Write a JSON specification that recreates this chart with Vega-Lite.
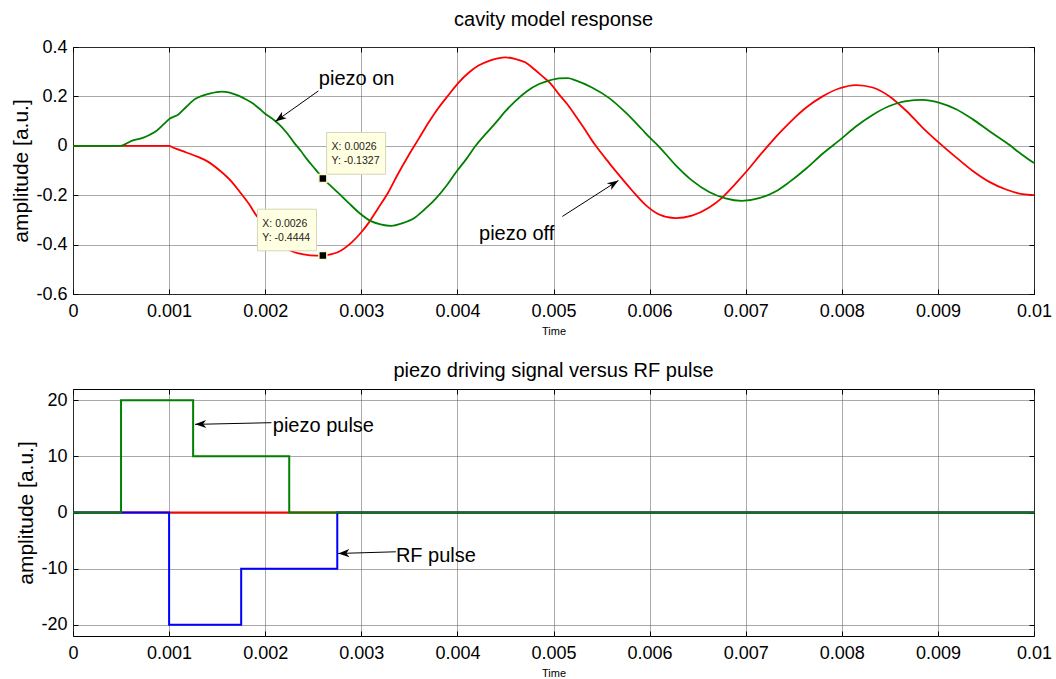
{
  "$schema": "https://vega.github.io/schema/vega-lite/v6.json",
  "padding": {"left": 10, "top": 9, "right": 0, "bottom": 0},
  "spacing": 23,
  "config": {
    "font": "Liberation Sans",
    "view": {"stroke": "#000", "strokeWidth": 1},
    "axis": {"labelFont": "Liberation Sans", "labelFontSize": 18, "labelColor": "#000", "titleFont": "Liberation Sans", "titleFontWeight": "normal", "titleColor": "#000", "domain": false, "tickColor": "#000", "tickSize": -5, "gridColor": "#555", "gridDash": [1, 1], "gridOpacity": 1},
    "axisX": {"labelPadding": 13},
    "axisY": {"labelPadding": 11},
    "title": {"font": "Liberation Sans", "fontSize": 20, "fontWeight": "normal", "color": "#000", "offset": 8}
  },
  "datasets": {
    "cav": [
      {"t": 0, "v": 0, "s": "off"}, {"t": 0.001, "v": 0, "s": "off"}, {"t": 0.00104, "v": -0.007, "s": "off"}, {"t": 0.00118, "v": -0.027, "s": "off"}, {"t": 0.0013, "v": -0.045, "s": "off"}, {"t": 0.00139, "v": -0.061, "s": "off"}, {"t": 0.00153, "v": -0.101, "s": "off"}, {"t": 0.00165, "v": -0.145, "s": "off"}, {"t": 0.00174, "v": -0.189, "s": "off"}, {"t": 0.00183, "v": -0.235, "s": "off"}, {"t": 0.00191, "v": -0.283, "s": "off"}, {"t": 0.002, "v": -0.325, "s": "off"}, {"t": 0.0021, "v": -0.37, "s": "off"}, {"t": 0.00218, "v": -0.403, "s": "off"}, {"t": 0.00226, "v": -0.424, "s": "off"}, {"t": 0.0024, "v": -0.44, "s": "off"}, {"t": 0.00253, "v": -0.445, "s": "off"}, {"t": 0.0026, "v": -0.4444, "s": "off"}, {"t": 0.00268, "v": -0.44, "s": "off"}, {"t": 0.00276, "v": -0.43, "s": "off"}, {"t": 0.0029, "v": -0.391, "s": "off"}, {"t": 0.003, "v": -0.35, "s": "off"}, {"t": 0.00308, "v": -0.31, "s": "off"}, {"t": 0.00318, "v": -0.25, "s": "off"}, {"t": 0.00328, "v": -0.189, "s": "off"}, {"t": 0.00338, "v": -0.115, "s": "off"}, {"t": 0.00349, "v": -0.04, "s": "off"}, {"t": 0.0036, "v": 0.03, "s": "off"}, {"t": 0.0037, "v": 0.094, "s": "off"}, {"t": 0.0038, "v": 0.152, "s": "off"}, {"t": 0.0039, "v": 0.202, "s": "off"}, {"t": 0.00401, "v": 0.255, "s": "off"}, {"t": 0.00412, "v": 0.297, "s": "off"}, {"t": 0.00422, "v": 0.325, "s": "off"}, {"t": 0.00433, "v": 0.344, "s": "off"}, {"t": 0.00442, "v": 0.354, "s": "off"}, {"t": 0.0045, "v": 0.358, "s": "off"}, {"t": 0.0046, "v": 0.352, "s": "off"}, {"t": 0.00471, "v": 0.337, "s": "off"}, {"t": 0.0048, "v": 0.31, "s": "off"}, {"t": 0.00488, "v": 0.283, "s": "off"}, {"t": 0.00497, "v": 0.252, "s": "off"}, {"t": 0.005055, "v": 0.209, "s": "off"}, {"t": 0.00515, "v": 0.165, "s": "off"}, {"t": 0.00523, "v": 0.121, "s": "off"}, {"t": 0.00532, "v": 0.07, "s": "off"}, {"t": 0.0054, "v": 0.022, "s": "off"}, {"t": 0.00544, "v": 0, "s": "off"}, {"t": 0.00558, "v": -0.07, "s": "off"}, {"t": 0.00568, "v": -0.118, "s": "off"}, {"t": 0.00582, "v": -0.182, "s": "off"}, {"t": 0.00596, "v": -0.24, "s": "off"}, {"t": 0.0061, "v": -0.278, "s": "off"}, {"t": 0.00627, "v": -0.293, "s": "off"}, {"t": 0.00644, "v": -0.283, "s": "off"}, {"t": 0.00662, "v": -0.25, "s": "off"}, {"t": 0.00675, "v": -0.212, "s": "off"}, {"t": 0.00689, "v": -0.155, "s": "off"}, {"t": 0.00703, "v": -0.094, "s": "off"}, {"t": 0.00714, "v": -0.042, "s": "off"}, {"t": 0.00725, "v": 0.008, "s": "off"}, {"t": 0.00738, "v": 0.063, "s": "off"}, {"t": 0.0075, "v": 0.11, "s": "off"}, {"t": 0.00763, "v": 0.155, "s": "off"}, {"t": 0.0078, "v": 0.2, "s": "off"}, {"t": 0.00797, "v": 0.232, "s": "off"}, {"t": 0.00815, "v": 0.246, "s": "off"}, {"t": 0.00832, "v": 0.236, "s": "off"}, {"t": 0.00849, "v": 0.202, "s": "off"}, {"t": 0.00867, "v": 0.142, "s": "off"}, {"t": 0.00884, "v": 0.074, "s": "off"}, {"t": 0.00901, "v": 0.013, "s": "off"}, {"t": 0.00919, "v": -0.047, "s": "off"}, {"t": 0.00936, "v": -0.101, "s": "off"}, {"t": 0.00953, "v": -0.145, "s": "off"}, {"t": 0.00971, "v": -0.177, "s": "off"}, {"t": 0.00988, "v": -0.196, "s": "off"}, {"t": 0.01, "v": -0.2, "s": "off"},
      {"t": 0, "v": 0, "s": "on"}, {"t": 0.0005, "v": 0, "s": "on"}, {"t": 0.00055, "v": 0.008, "s": "on"}, {"t": 0.00061, "v": 0.02, "s": "on"}, {"t": 0.00071, "v": 0.03, "s": "on"}, {"t": 0.0008, "v": 0.045, "s": "on"}, {"t": 0.00087, "v": 0.061, "s": "on"}, {"t": 0.00095, "v": 0.09, "s": "on"}, {"t": 0.001, "v": 0.108, "s": "on"}, {"t": 0.0011, "v": 0.128, "s": "on"}, {"t": 0.00118, "v": 0.158, "s": "on"}, {"t": 0.00127, "v": 0.189, "s": "on"}, {"t": 0.00135, "v": 0.203, "s": "on"}, {"t": 0.00142, "v": 0.211, "s": "on"}, {"t": 0.00155, "v": 0.219, "s": "on"}, {"t": 0.00162, "v": 0.216, "s": "on"}, {"t": 0.0017, "v": 0.206, "s": "on"}, {"t": 0.00178, "v": 0.192, "s": "on"}, {"t": 0.00187, "v": 0.172, "s": "on"}, {"t": 0.00194, "v": 0.15, "s": "on"}, {"t": 0.002, "v": 0.13, "s": "on"}, {"t": 0.00208, "v": 0.108, "s": "on"}, {"t": 0.00215, "v": 0.085, "s": "on"}, {"t": 0.00223, "v": 0.05, "s": "on"}, {"t": 0.0023, "v": 0.013, "s": "on"}, {"t": 0.00237, "v": -0.02, "s": "on"}, {"t": 0.00243, "v": -0.052, "s": "on"}, {"t": 0.0025, "v": -0.085, "s": "on"}, {"t": 0.00255, "v": -0.108, "s": "on"}, {"t": 0.0026, "v": -0.1327, "s": "on"}, {"t": 0.00269, "v": -0.165, "s": "on"}, {"t": 0.00278, "v": -0.198, "s": "on"}, {"t": 0.00287, "v": -0.232, "s": "on"}, {"t": 0.00298, "v": -0.272, "s": "on"}, {"t": 0.0031, "v": -0.305, "s": "on"}, {"t": 0.0032, "v": -0.318, "s": "on"}, {"t": 0.00331, "v": -0.324, "s": "on"}, {"t": 0.00343, "v": -0.313, "s": "on"}, {"t": 0.00356, "v": -0.29, "s": "on"}, {"t": 0.00366, "v": -0.257, "s": "on"}, {"t": 0.00377, "v": -0.216, "s": "on"}, {"t": 0.00388, "v": -0.165, "s": "on"}, {"t": 0.00398, "v": -0.11, "s": "on"}, {"t": 0.00409, "v": -0.055, "s": "on"}, {"t": 0.00419, "v": 0, "s": "on"}, {"t": 0.0043, "v": 0.05, "s": "on"}, {"t": 0.0044, "v": 0.094, "s": "on"}, {"t": 0.0045, "v": 0.14, "s": "on"}, {"t": 0.0046, "v": 0.18, "s": "on"}, {"t": 0.00472, "v": 0.22, "s": "on"}, {"t": 0.00485, "v": 0.25, "s": "on"}, {"t": 0.00497, "v": 0.266, "s": "on"}, {"t": 0.005055, "v": 0.273, "s": "on"}, {"t": 0.00515, "v": 0.274, "s": "on"}, {"t": 0.00523, "v": 0.265, "s": "on"}, {"t": 0.0054, "v": 0.236, "s": "on"}, {"t": 0.00558, "v": 0.193, "s": "on"}, {"t": 0.00575, "v": 0.135, "s": "on"}, {"t": 0.00592, "v": 0.067, "s": "on"}, {"t": 0.006, "v": 0.034, "s": "on"}, {"t": 0.00609, "v": 0, "s": "on"}, {"t": 0.00627, "v": -0.078, "s": "on"}, {"t": 0.00644, "v": -0.14, "s": "on"}, {"t": 0.00662, "v": -0.187, "s": "on"}, {"t": 0.00679, "v": -0.213, "s": "on"}, {"t": 0.00696, "v": -0.223, "s": "on"}, {"t": 0.00714, "v": -0.212, "s": "on"}, {"t": 0.00731, "v": -0.185, "s": "on"}, {"t": 0.00745, "v": -0.148, "s": "on"}, {"t": 0.00763, "v": -0.092, "s": "on"}, {"t": 0.0078, "v": -0.032, "s": "on"}, {"t": 0.008, "v": 0.03, "s": "on"}, {"t": 0.00815, "v": 0.079, "s": "on"}, {"t": 0.00832, "v": 0.125, "s": "on"}, {"t": 0.00849, "v": 0.16, "s": "on"}, {"t": 0.00867, "v": 0.181, "s": "on"}, {"t": 0.00884, "v": 0.186, "s": "on"}, {"t": 0.00901, "v": 0.175, "s": "on"}, {"t": 0.00919, "v": 0.148, "s": "on"}, {"t": 0.00936, "v": 0.108, "s": "on"}, {"t": 0.00953, "v": 0.061, "s": "on"}, {"t": 0.00971, "v": 0.013, "s": "on"}, {"t": 0.00988, "v": -0.037, "s": "on"}, {"t": 0.01, "v": -0.07, "s": "on"}
    ],
    "drv": [
      {"t": 0, "v": 0, "s": "off"}, {"t": 0.01, "v": 0, "s": "off"},
      {"t": 0, "v": 0, "s": "rf"}, {"t": 0.001, "v": -20, "s": "rf"}, {"t": 0.00175, "v": -10, "s": "rf"}, {"t": 0.00275, "v": 0, "s": "rf"}, {"t": 0.01, "v": 0, "s": "rf"},
      {"t": 0, "v": 0, "s": "pz"}, {"t": 0.0005, "v": 20, "s": "pz"}, {"t": 0.00125, "v": 10, "s": "pz"}, {"t": 0.00225, "v": 0, "s": "pz"}, {"t": 0.01, "v": 0, "s": "pz"}
    ],
    "arrows": [
      {"p": "on", "x": 0.002553, "y": 0.222, "x2": 0.002105, "y2": 0.0984},
      {"p": "off", "x": 0.005092, "y": -0.286, "x2": 0.005675, "y2": -0.1405},
      {"p": "pulse", "x": 0.002065, "y": 16.0, "x2": 0.00127, "y2": 15.7},
      {"p": "rf", "x": 0.00336, "y": -7.0, "x2": 0.00276, "y2": -7.3}
    ],
    "labels": [
      {"p": "top", "x": 0.002558, "y": 0.269, "txt": "piezo on"},
      {"p": "top", "x": 0.004225, "y": -0.359, "txt": "piezo off"},
      {"p": "bot", "x": 0.002079, "y": 15.44, "txt": "piezo pulse"},
      {"p": "bot", "x": 0.00336, "y": -7.8, "txt": "RF pulse"}
    ],
    "tipbox": [
      {"x1": 0.002639, "x2": 0.003253, "y1": 0.0538, "y2": -0.115},
      {"x1": 0.00192, "x2": 0.002534, "y1": -0.2567, "y2": -0.4251}
    ],
    "tiptext": [
      {"x": 0.002691, "y": -0.003, "txt": "X: 0.0026"},
      {"x": 0.002691, "y": -0.0607, "txt": "Y: -0.1327"},
      {"x": 0.00197, "y": -0.3174, "txt": "X: 0.0026"},
      {"x": 0.00197, "y": -0.3753, "txt": "Y: -0.4444"}
    ],
    "tips": [
      {"x": 0.0026, "y": -0.1327},
      {"x": 0.0026, "y": -0.4444}
    ]
  },
  "vconcat": [
    {
      "width": 961,
      "height": 247,
      "title": "cavity model response",
      "resolve": {"axis": {"x": "independent", "y": "independent"}},
      "layer": [
        {
          "data": {"name": "cav"},
          "transform": [{"filter": "datum.s === 'off'"}],
          "mark": {"type": "line", "color": "#ff0000", "strokeWidth": 1.8, "interpolate": "monotone"},
          "encoding": {
            "x": {"field": "t", "type": "quantitative", "scale": {"domain": [0, 0.01], "nice": false, "zero": false},
              "axis": {"values": [0, 0.001, 0.002, 0.003, 0.004, 0.005, 0.006, 0.007, 0.008, 0.009, 0.01], "labelExpr": "replace(format(datum.value, '~g'), '\u2212', '-')", "labelFlush": false, "labelOverlap": false, "title": "Time", "titleFontSize": 11, "titlePadding": 5, "grid": true}},
            "y": {"field": "v", "type": "quantitative", "scale": {"domain": [-0.6, 0.4], "nice": false, "zero": false},
              "axis": {"values": [-0.6, -0.4, -0.2, 0, 0.2, 0.4], "labelExpr": "replace(format(datum.value, '~g'), '\u2212', '-')", "labelOverlap": false, "title": "amplitude [a.u.]", "titleFontSize": 21, "titlePadding": 4, "grid": true}}
          }
        },
        {
          "data": {"name": "cav"},
          "transform": [{"filter": "datum.s === 'on'"}],
          "mark": {"type": "line", "color": "#008000", "strokeWidth": 1.8, "interpolate": "monotone"},
          "encoding": {
            "x": {"field": "t", "type": "quantitative", "axis": {"orient": "top", "values": [0, 0.001, 0.002, 0.003, 0.004, 0.005, 0.006, 0.007, 0.008, 0.009, 0.01], "labels": false, "title": null, "grid": false}},
            "y": {"field": "v", "type": "quantitative", "axis": {"orient": "right", "values": [-0.6, -0.4, -0.2, 0, 0.2, 0.4], "labels": false, "title": null, "grid": false}}
          }
        },
        {
          "data": {"name": "arrows"},
          "transform": [{"filter": "datum.p === 'on' || datum.p === 'off'"}],
          "mark": {"type": "rule", "color": "#000", "strokeWidth": 1},
          "encoding": {
            "x": {"field": "x", "type": "quantitative", "axis": null},
            "y": {"field": "y", "type": "quantitative", "axis": null},
            "x2": {"field": "x2"},
            "y2": {"field": "y2"}
          }
        },
        {
          "data": {"name": "arrows"},
          "transform": [{"filter": "datum.p === 'on'"}],
          "mark": {"type": "point", "shape": "M0,0L-1,-0.36L-0.72,0L-1,0.36Z", "filled": true, "color": "#000", "opacity": 1, "size": 500, "angle": 144.6},
          "encoding": {
            "x": {"field": "x2", "type": "quantitative", "axis": null},
            "y": {"field": "y2", "type": "quantitative", "axis": null}
          }
        },
        {
          "data": {"name": "arrows"},
          "transform": [{"filter": "datum.p === 'off'"}],
          "mark": {"type": "point", "shape": "M0,0L-1,-0.36L-0.72,0L-1,0.36Z", "filled": true, "color": "#000", "opacity": 1, "size": 500, "angle": 327.3},
          "encoding": {
            "x": {"field": "x2", "type": "quantitative", "axis": null},
            "y": {"field": "y2", "type": "quantitative", "axis": null}
          }
        },
        {
          "data": {"name": "labels"},
          "transform": [{"filter": "datum.p === 'top'"}],
          "mark": {"type": "text", "align": "left", "baseline": "middle", "fontSize": 20, "color": "#000"},
          "encoding": {
            "x": {"field": "x", "type": "quantitative", "axis": null},
            "y": {"field": "y", "type": "quantitative", "axis": null},
            "text": {"field": "txt"}
          }
        },
        {
          "data": {"name": "tipbox"},
          "mark": {"type": "rect", "fill": "#ffffe1", "stroke": "#d6d6b8", "strokeWidth": 1},
          "encoding": {
            "x": {"field": "x1", "type": "quantitative", "axis": null},
            "x2": {"field": "x2"},
            "y": {"field": "y1", "type": "quantitative", "axis": null},
            "y2": {"field": "y2"}
          }
        },
        {
          "data": {"name": "tiptext"},
          "mark": {"type": "text", "align": "left", "baseline": "middle", "fontSize": 10.5, "color": "#222"},
          "encoding": {
            "x": {"field": "x", "type": "quantitative", "axis": null},
            "y": {"field": "y", "type": "quantitative", "axis": null},
            "text": {"field": "txt"}
          }
        },
        {
          "data": {"name": "tips"},
          "mark": {"type": "point", "shape": "square", "filled": true, "color": "#000", "opacity": 1, "size": 64, "stroke": "#fffacd", "strokeWidth": 1.5},
          "encoding": {
            "x": {"field": "x", "type": "quantitative", "axis": null},
            "y": {"field": "y", "type": "quantitative", "axis": null}
          }
        }
      ]
    },
    {
      "width": 961,
      "height": 247,
      "title": "piezo driving signal versus RF pulse",
      "resolve": {"axis": {"x": "independent", "y": "independent"}},
      "layer": [
        {
          "data": {"name": "drv"},
          "transform": [{"filter": "datum.s === 'off'"}],
          "mark": {"type": "line", "color": "#ff0000", "strokeWidth": 2, "interpolate": "step-after"},
          "encoding": {
            "x": {"field": "t", "type": "quantitative", "scale": {"domain": [0, 0.01], "nice": false, "zero": false},
              "axis": {"values": [0, 0.001, 0.002, 0.003, 0.004, 0.005, 0.006, 0.007, 0.008, 0.009, 0.01], "labelExpr": "replace(format(datum.value, '~g'), '\u2212', '-')", "labelFlush": false, "labelOverlap": false, "title": "Time", "titleFontSize": 11, "titlePadding": 5, "grid": true}},
            "y": {"field": "v", "type": "quantitative", "scale": {"domain": [-22, 22], "nice": false, "zero": false},
              "axis": {"values": [-20, -10, 0, 10, 20], "labelExpr": "replace(format(datum.value, '~g'), '\u2212', '-')", "labelOverlap": false, "title": "amplitude [a.u.]", "titleFontSize": 21, "titlePadding": 4, "grid": true}}
          }
        },
        {
          "data": {"name": "drv"},
          "transform": [{"filter": "datum.s === 'rf'"}],
          "mark": {"type": "line", "color": "#0000ff", "strokeWidth": 2, "interpolate": "step-after"},
          "encoding": {
            "x": {"field": "t", "type": "quantitative", "axis": {"orient": "top", "values": [0, 0.001, 0.002, 0.003, 0.004, 0.005, 0.006, 0.007, 0.008, 0.009, 0.01], "labels": false, "title": null, "grid": false}},
            "y": {"field": "v", "type": "quantitative", "axis": {"orient": "right", "values": [-20, -10, 0, 10, 20], "labels": false, "title": null, "grid": false}}
          }
        },
        {
          "data": {"name": "drv"},
          "transform": [{"filter": "datum.s === 'pz'"}],
          "mark": {"type": "line", "color": "#008000", "strokeWidth": 2, "interpolate": "step-after"},
          "encoding": {
            "x": {"field": "t", "type": "quantitative", "axis": null},
            "y": {"field": "v", "type": "quantitative", "axis": null}
          }
        },
        {
          "data": {"name": "arrows"},
          "transform": [{"filter": "datum.p === 'pulse' || datum.p === 'rf'"}],
          "mark": {"type": "rule", "color": "#000", "strokeWidth": 1},
          "encoding": {
            "x": {"field": "x", "type": "quantitative", "axis": null},
            "y": {"field": "y", "type": "quantitative", "axis": null},
            "x2": {"field": "x2"},
            "y2": {"field": "y2"}
          }
        },
        {
          "data": {"name": "arrows"},
          "transform": [{"filter": "datum.p === 'pulse' || datum.p === 'rf'"}],
          "mark": {"type": "point", "shape": "M0,0L-1,-0.36L-0.72,0L-1,0.36Z", "filled": true, "color": "#000", "opacity": 1, "size": 500, "angle": 178.2},
          "encoding": {
            "x": {"field": "x2", "type": "quantitative", "axis": null},
            "y": {"field": "y2", "type": "quantitative", "axis": null}
          }
        },
        {
          "data": {"name": "labels"},
          "transform": [{"filter": "datum.p === 'bot'"}],
          "mark": {"type": "text", "align": "left", "baseline": "middle", "fontSize": 20, "color": "#000"},
          "encoding": {
            "x": {"field": "x", "type": "quantitative", "axis": null},
            "y": {"field": "y", "type": "quantitative", "axis": null},
            "text": {"field": "txt"}
          }
        }
      ]
    }
  ]
}
